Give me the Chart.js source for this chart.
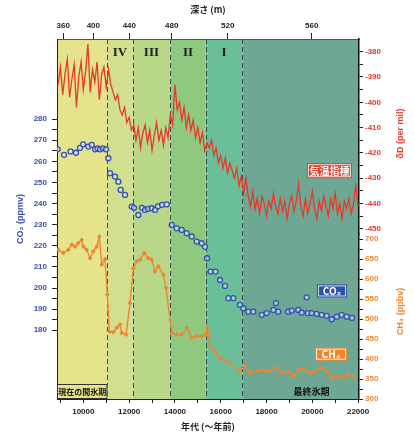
<!DOCTYPE html>
<html>
<head>
<meta charset="utf-8">
<script src="https://cdn.jsdelivr.net/npm/chart.js@4.4.0/dist/chart.umd.min.js"></script>
<style>
  html, body { margin: 0; padding: 0; background: #fff; }
  canvas { display: block; }
</style>
</head>
<body>
<canvas id="myChart" width="414" height="432"></canvas>
<script>
// deuterium (temperature proxy), years before present
const dDYears = [
  8900, 9000, 9100, 9200, 9300, 9400, 9500, 9600, 9700, 9800,
  9900, 10000, 10100, 10200, 10300, 10400, 10500, 10600, 10700, 10800,
  10900, 11000, 11100, 11200, 11300, 11400, 11500, 11600, 11700, 11800,
  11900, 12000, 12100, 12200, 12300, 12400, 12500, 12600, 12700, 12800,
  12900, 13000, 13100, 13200, 13300, 13400, 13500, 13600, 13700, 13800,
  13900, 14000, 14100, 14200, 14300, 14400, 14500, 14600, 14700, 14800,
  14900, 15000, 15100, 15200, 15300, 15400, 15500, 15600, 15700, 15800,
  15900, 16000, 16100, 16200, 16300, 16400, 16500, 16600, 16700, 16800,
  16900, 17000, 17100, 17200, 17300, 17400, 17500, 17600, 17700, 17800,
  17900, 18000, 18100, 18200, 18300, 18400, 18500, 18600, 18700, 18800,
  18900, 19000, 19100, 19200, 19300, 19400, 19500, 19600, 19700, 19800,
  19900, 20000, 20100, 20200, 20300, 20400, 20500, 20600, 20700, 20800,
  20900, 21000, 21100, 21200, 21300, 21400, 21500, 21600, 21700, 21800,
  21900, 22000
];
const dDValues = [
  -393, -386, -397, -389, -383, -398, -391, -385, -402, -390,
  -384, -395, -388, -377, -396, -387, -392, -384, -399, -389,
  -386, -394, -387, -393, -396, -399, -397, -403, -405, -402,
  -408, -406, -411, -409, -415, -410, -418, -412, -409, -416,
  -411, -419, -413, -408, -415, -411, -417, -410, -414, -405,
  -409, -393, -403, -400, -407, -402, -410, -405, -411, -407,
  -414, -410, -416, -412, -419, -416, -418, -415, -421, -418,
  -424, -421, -426, -422, -428, -424, -427, -430, -426, -433,
  -429, -436, -430, -437, -441, -435, -442, -438, -444, -437,
  -440, -445, -439, -442, -436, -441, -444, -438, -443, -439,
  -446, -440, -437, -443, -439, -432, -441, -445, -438, -444,
  -440, -435, -442, -446, -439, -443, -437, -441, -445, -438,
  -442, -436, -444, -440, -446, -439, -442, -438, -444, -440,
  -433, -441
];

const co2Years = [
  8880, 9157, 9441, 9681, 9856, 9987, 10218, 10367, 10511, 10620,
  10729, 10860, 10991, 11092, 11166, 11384, 11528, 11633, 11821, 12114,
  12214, 12402, 12563, 12694, 12825, 12987, 13131, 13262, 13437, 13642,
  13860, 14079, 14297, 14515, 14734, 14952, 15170, 15315, 15402, 15555,
  15773, 15970, 16188, 16332, 16551, 16843, 16987, 17205, 17424, 17791,
  18009, 18297, 18415, 18516, 18952, 19101, 19389, 19537, 19756, 19800,
  19974, 20193, 20411, 20629, 20848, 21066, 21284, 21503, 21735
];
const co2Values = [
  265.7, 263.1, 264.7, 264.1, 266.4, 268.1, 267.0, 267.8, 265.7, 266.2,
  265.7, 266.2, 265.7, 261.5, 254.4, 252.8, 250.4, 246.5, 244.1, 238.6,
  238.0, 234.6, 238.0, 237.0, 237.5, 237.8, 237.0, 238.7, 239.4, 239.6,
  229.9, 228.3, 227.5, 226.0, 224.4, 222.0, 221.2, 219.5, 214.1, 207.8,
  207.8, 203.8, 201.0, 195.2, 195.2, 192.0, 190.4, 188.8, 188.8, 187.3,
  188.1, 189.6, 192.8, 188.8, 188.8, 189.3, 189.6, 188.3, 195.6, 188.1,
  188.1, 187.7, 187.3, 186.8, 185.2, 186.4, 187.3, 186.4, 185.8
];

const ch4Years = [
  8908, 9127, 9345, 9493, 9638, 9782, 9930, 10000, 10148, 10293,
  10437, 10585, 10699, 10804, 10948, 11048, 11135, 11310, 11459, 11603,
  11677, 11865, 12039, 12184, 12332, 12476, 12664, 12839, 12987, 13131,
  13275, 13494, 13612, 13860, 14079, 14297, 14515, 14734, 14952, 15170,
  15358, 15415, 15533, 15751, 15970, 16319, 16843, 17061, 17279, 17572,
  17791, 18079, 18446, 18664, 18952, 19171, 19389, 19608, 19900, 20118,
  20336, 20629, 20848, 21066, 21354, 21572, 21822
];
const ch4Values = [
  673, 665, 673, 686, 681, 690, 698, 681, 673, 652,
  669, 681, 706, 636, 650, 561, 469, 467, 478, 486,
  465, 461, 540, 627, 644, 648, 665, 652, 648, 619,
  632, 611, 578, 465, 461, 461, 478, 453, 457, 457,
  461, 478, 432, 419, 402, 392, 369, 382, 365, 369,
  373, 369, 378, 365, 369, 357, 373, 373, 365, 369,
  378, 369, 353, 357, 353, 361, 356
];

// axis ticks
const ageTicks = [9000, 10000, 11000, 12000, 13000, 14000, 15000, 16000, 17000, 18000, 19000, 20000, 21000, 22000];
const ageLabels = [10000, 12000, 14000, 16000, 18000, 20000, 22000];
const depthLabels = ['360', '400', '440', '480', '520', '560'];
const depthYears = [9125, 10437, 12009, 13860, 16306, 19974];
const co2Ticks = [180, 185, 190, 195, 200, 205, 210, 215, 220, 225, 230, 235, 240, 245, 250, 255, 260, 265, 270, 275, 280];
const dDTicks = [-450, -445, -440, -435, -430, -425, -420, -415, -410, -405, -400, -395, -390, -385, -380];
const ch4Ticks = [300, 325, 350, 375, 400, 425, 450, 475, 500, 525, 550, 575, 600, 625, 650, 675, 700];

// climate stages
const stageBounds = [11050, 12150, 13800, 15350, 16950];
const stageNames = ['', 'IV', 'III', 'II', 'I', ''];
const stageColors = ['#e5e48c', '#d1df8e', '#b8d789', '#8fc97f', '#6bbf98', '#6ea895'];

const FONT = '"Liberation Sans", "Noto Sans CJK JP", sans-serif';
const JP = '"Noto Sans CJK JP", "Liberation Sans", sans-serif';
const BLUE = '#3a4ea6';
const RED = '#e6392a';
const ORANGE = '#ee8630';

const setTicks = values => scale => { scale.ticks = values.map(v => ({ value: v })); };
const minorLabel = step => v => (v % step === 0 ? String(v) : '');

const stagePlugin = {
  id: 'stages',
  beforeDraw(chart) {
    const { ctx, chartArea: a, scales } = chart;
    const xs = [a.left, ...stageBounds.map(b => scales.x.getPixelForValue(b)), a.right];
    ctx.save();
    for (let i = 0; i < stageColors.length; i++) {
      ctx.fillStyle = stageColors[i];
      ctx.fillRect(xs[i], a.top, xs[i + 1] - xs[i], a.bottom - a.top);
    }
    ctx.strokeStyle = '#3b4a42';
    ctx.lineWidth = 1;
    ctx.setLineDash([5, 3]);
    stageBounds.forEach(b => {
      const x = Math.round(scales.x.getPixelForValue(b)) + 0.5;
      ctx.beginPath();
      ctx.moveTo(x, a.top);
      ctx.lineTo(x, a.bottom);
      ctx.stroke();
    });
    ctx.restore();
  }
};

const box = (ctx, text, cx, cy, w, h, fill, size) => {
  ctx.fillStyle = fill;
  ctx.fillRect(cx - w / 2, cy - h / 2, w, h);
  ctx.strokeStyle = 'rgba(255,255,255,0.8)';
  ctx.lineWidth = 1;
  ctx.strokeRect(cx - w / 2 + 1.5, cy - h / 2 + 1.5, w - 3, h - 3);
  ctx.fillStyle = '#fff';
  ctx.font = 'bold ' + size + 'px ' + JP;
  ctx.textAlign = 'center';
  ctx.textBaseline = 'middle';
  ctx.fillText(text, cx, cy + 0.5);
};

const sideTitle = (ctx, text, x, y, color) => {
  ctx.save();
  ctx.translate(x, y);
  ctx.rotate(-Math.PI / 2);
  ctx.fillStyle = color;
  ctx.font = 'bold 9px ' + FONT;
  ctx.textAlign = 'center';
  ctx.textBaseline = 'middle';
  ctx.fillText(text, 0, 0);
  ctx.restore();
};

const labelPlugin = {
  id: 'labels',
  afterDatasetsDraw(chart) {
    const { ctx, chartArea: a, scales } = chart;
    const xs = [a.left, ...stageBounds.map(b => scales.x.getPixelForValue(b)), a.right];
    ctx.save();
    ctx.fillStyle = '#1e1e1e';
    ctx.font = 'bold 13px "Liberation Serif", serif';
    ctx.textAlign = 'center';
    ctx.textBaseline = 'middle';
    stageNames.forEach((n, i) => {
      if (n) ctx.fillText(n, (xs[i] + xs[i + 1]) / 2, a.top + 14);
    });

    // stage names at the bottom
    const hx = xs[1];
    ctx.fillStyle = stageColors[0];
    ctx.fillRect(a.left, a.bottom - 15, hx - a.left, 15);
    ctx.strokeStyle = '#333';
    ctx.strokeRect(a.left + 0.5, a.bottom - 14.5, hx - a.left - 1, 14);
    ctx.fillStyle = '#111';
    ctx.font = 'bold 8px ' + JP;
    ctx.fillText('現在の間氷期', (a.left + hx) / 2, a.bottom - 7);
    ctx.font = 'bold 9px ' + JP;
    ctx.fillText('最終氷期', scales.x.getPixelForValue(19960), a.bottom - 7);

    box(ctx, '気温指標', scales.x.getPixelForValue(20750), scales.yD.getPixelForValue(-427), 45, 15, '#e4402a', 10);
    box(ctx, 'CO₂', scales.x.getPixelForValue(20860), scales.yC.getPixelForValue(198.6), 30, 13, '#2f50a8', 10);
    box(ctx, 'CH₄', scales.x.getPixelForValue(20820), scales.yM.getPixelForValue(412), 32, 13, '#ee8630', 10);

    sideTitle(ctx, 'δD (per mil)', scales.yD.right - 13, (scales.yD.top + scales.yD.bottom) / 2 - 3, RED);
    sideTitle(ctx, 'CH₄ (ppbv)', scales.yM.right - 13, (scales.yM.top + scales.yM.bottom) / 2 - 5, ORANGE);
    ctx.restore();
  }
};

const ctx = document.getElementById('myChart').getContext('2d');
let myChart = new Chart(ctx, {
  type: 'line',
  data: {
    datasets: [
      {
        label: 'δD',
        data: dDYears.map((x, i) => ({ x, y: dDValues[i] })),
        xAxisID: 'x',
        yAxisID: 'yD',
        borderColor: RED,
        borderWidth: 1.3,
        pointRadius: 0,
        tension: 0
      },
      {
        label: 'CO2',
        data: co2Years.map((x, i) => ({ x, y: co2Values[i] })),
        xAxisID: 'x',
        yAxisID: 'yC',
        showLine: false,
        pointRadius: 2.5,
        pointBorderWidth: 1.3,
        pointBorderColor: '#3450b0',
        pointBackgroundColor: 'rgba(220,230,252,0.55)'
      },
      {
        label: 'CH4',
        data: ch4Years.map((x, i) => ({ x, y: ch4Values[i] })),
        xAxisID: 'x',
        yAxisID: 'yM',
        borderColor: ORANGE,
        borderWidth: 1.4,
        pointStyle: 'rectRot',
        pointRadius: 2.4,
        pointBorderWidth: 0,
        pointBackgroundColor: ORANGE,
        tension: 0
      }
    ]
  },
  options: {
    responsive: false,
    animation: false,
    devicePixelRatio: 1,
    layout: { padding: 0 },
    plugins: { legend: { display: false }, tooltip: { enabled: false } },
    scales: {
      x: {
        type: 'linear',
        position: 'bottom',
        min: 8850,
        max: 22040,
        afterBuildTicks: setTicks(ageTicks),
        afterFit: s => { s.height = 33; },
        ticks: {
          callback: v => (ageLabels.includes(v) ? String(v) : ''),
          autoSkip: false, maxRotation: 0, padding: 4, color: '#222',
          font: { family: FONT, size: 8, weight: 'bold' }
        },
        grid: { drawOnChartArea: false, tickLength: 4, color: '#222' },
        border: { color: '#222', width: 1 },
        title: {
          display: true, text: '年代 (〜年前)', color: '#222',
          font: { family: JP, size: 9, weight: 'bold' }, padding: { top: 0, bottom: 0 }
        }
      },
      x2: {
        type: 'linear',
        axis: 'x',
        position: 'top',
        min: 8850,
        max: 22040,
        afterBuildTicks: setTicks(depthYears),
        afterFit: s => { s.height = 39; },
        ticks: {
          callback: (v, i) => depthLabels[i],
          autoSkip: false, maxRotation: 0, padding: 2, color: '#222',
          font: { family: FONT, size: 8, weight: 'bold' }
        },
        grid: { drawOnChartArea: false, tickLength: 6, color: '#222' },
        border: { color: '#555', width: 1 },
        title: {
          display: true, text: '深さ (m)', color: '#222',
          font: { family: JP, size: 9, weight: 'bold' }, padding: { top: 4, bottom: 0 }
        }
      },
      yC: {
        type: 'linear',
        position: 'left',
        min: 147.4,
        max: 318,
        afterBuildTicks: setTicks(co2Ticks),
        afterFit: s => { s.width = 57; },
        ticks: {
          callback: minorLabel(10), autoSkip: false, padding: 5, color: BLUE,
          font: { family: FONT, size: 8, weight: 'bold' }
        },
        grid: { drawOnChartArea: false, tickLength: 5, color: '#222' },
        border: { color: '#222', width: 1 },
        title: {
          display: true, text: 'CO₂ (ppmv)', color: BLUE,
          font: { family: FONT, size: 9, weight: 'bold' }, padding: { top: 15, bottom: 0 }
        }
      },
      yD: {
        type: 'linear',
        position: 'right',
        stack: 'right',
        stackWeight: 195,
        min: -452,
        max: -375,
        afterBuildTicks: setTicks(dDTicks),
        afterFit: s => { s.width = 55; },
        ticks: {
          callback: minorLabel(10), autoSkip: false, padding: 2, color: RED,
          font: { family: FONT, size: 8, weight: 'bold' }
        },
        grid: { drawOnChartArea: false, tickLength: 4, color: '#222' },
        border: { color: '#111', width: 1.5 }
      },
      yM: {
        type: 'linear',
        position: 'right',
        stack: 'right',
        stackWeight: 165,
        min: 300,
        max: 712.5,
        afterBuildTicks: setTicks(ch4Ticks),
        afterFit: s => { s.width = 55; },
        ticks: {
          callback: minorLabel(50), autoSkip: false, padding: 2, color: ORANGE,
          font: { family: FONT, size: 8, weight: 'bold' }
        },
        grid: { drawOnChartArea: false, tickLength: 4, color: '#222' },
        border: { color: '#111', width: 1.5 }
      }
    }
  },
  plugins: [stagePlugin, labelPlugin]
});
</script>
</body>
</html>
